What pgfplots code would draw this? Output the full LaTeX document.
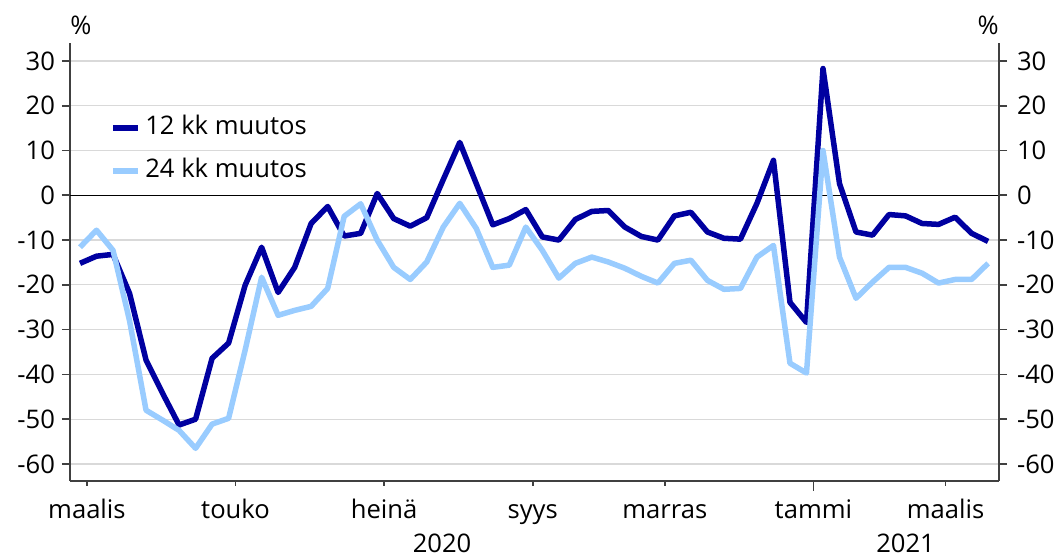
\documentclass[border=0pt]{standalone}
\usepackage{fontspec}
\setmainfont{Open Sans}
\usepackage{pgfplots}
\usepackage{pgfplotstable}
\pgfplotsset{compat=1.18}
\definecolor{dark12}{HTML}{0000A0}
\definecolor{light24}{HTML}{99CCFF}
\definecolor{gridgray}{HTML}{D9D9D9}
\definecolor{axisgray}{HTML}{404040}

% weekly values, index 0 = first week of March 2020
\pgfplotstableread{
i   m12    m24
0  -15.2  -11.6
1  -13.6   -7.8
2  -13.2  -12.3
3  -21.9  -28.0
4  -36.8  -48.0
5  -44.2  -50.2
6  -51.3  -52.5
7  -50.0  -56.5
8  -36.4  -51.1
9  -33.0  -49.8
10 -20.1  -34.6
11 -11.6  -18.3
12 -21.7  -26.8
13 -16.1  -25.7
14  -6.3  -24.8
15  -2.5  -20.8
16  -9.1   -4.7
17  -8.5   -1.9
18   0.4  -10.0
19  -5.2  -16.1
20  -6.9  -18.8
21  -5.0  -14.9
22   3.5   -7.1
23  11.8   -1.8
24   2.6   -7.4
25  -6.6  -16.1
26  -5.2  -15.6
27  -3.2   -7.1
28  -9.3  -12.3
29 -10.0  -18.5
30  -5.4  -15.2
31  -3.6  -13.8
32  -3.4  -14.9
33  -7.1  -16.3
34  -9.2  -18.1
35 -10.0  -19.6
36  -4.6  -15.2
37  -3.8  -14.5
38  -8.2  -19.0
39  -9.6  -21.0
40  -9.8  -20.8
41  -1.8  -13.8
42   7.8  -11.2
43 -23.9  -37.5
44 -28.4  -39.7
45  28.3   10.0
46   2.6  -13.8
47  -8.2  -23.0
48  -8.9  -19.4
49  -4.3  -16.1
50  -4.6  -16.1
51  -6.3  -17.4
52  -6.5  -19.6
53  -4.9  -18.8
54  -8.5  -18.8
55 -10.3  -15.2
}\weekly

\newcommand\lbl{\fontsize{12.8}{15}\selectfont}

\pgfplotsset{
  base/.style={
    scale only axis, width=464.5pt, height=219pt,
    xmin=-0.606, xmax=55.66, ymin=-63.8, ymax=34,
    ytick={-60,-50,...,30},
    tick align=outside,
    major tick length=4pt,
    tick style={axisgray, line width=0.8pt},
    axis line style={axisgray, line width=0.8pt},
    tick label style={font=\lbl, text=black},
    /pgf/number format/assume math mode=true,
  }
}

\begin{document}
\begin{tikzpicture}
\path[use as bounding box] (-35pt,-38pt) rectangle (495.5pt,240.5pt);
\begin{axis}[base,
  axis x line*=bottom, axis y line*=left,
  clip=false,
  ymajorgrids, grid style={gridgray, line width=0.6pt},
  extra y ticks={0}, extra y tick labels={},
  extra y tick style={grid style={black, line width=0.7pt}},
  xtick={0.42,9.42,18.42,27.42,35.42,44.42,52.42},
  xticklabels={maalis,touko,heinä,syys,marras,tammi,maalis},
  xtick style={/pgfplots/major tick length=2.5pt},
  xticklabel style={text height=9.5pt, text depth=2.5pt, inner sep=0pt, yshift=-5pt},
  legend cell align=left,
  legend style={at={(0.043,0.758)}, anchor=west, draw=none, fill=none,
    inner sep=0pt, column sep=0pt, row sep=9pt,
    nodes={font=\lbl, text height=9.5pt, text depth=3pt, inner sep=0pt}},
  legend image code/.code={\draw[#1, line width=3pt] (0pt,0pt) -- (12.5pt,0pt);},
]
\addplot[dark12, line width=2.75pt, line join=round, no markers] table[x=i, y=m12] {\weekly};
\addlegendentry{\hspace{2pt}12 kk muutos}
\addplot[light24, line width=2.75pt, line join=round, no markers] table[x=i, y=m24] {\weekly};
\addlegendentry{\hspace{2pt}24 kk muutos}
\draw[axisgray, line width=0.8pt] (axis cs:44.42,-63.8) -- ++(0pt,-5pt);
\node[font=\lbl] at (axis cs:0.06,38) {\%};
\node[font=\lbl] at (axis cs:55.0,38) {\%};
\node[font=\lbl] at (axis cs:21.93,-77.7) {2020};
\node[font=\lbl] at (axis cs:50.0,-77.7) {2021};
\end{axis}
\begin{axis}[base,
  axis x line=none, axis y line*=right,
  yticklabel style={xshift=1.5pt},
]
\end{axis}
\end{tikzpicture}
\end{document}
